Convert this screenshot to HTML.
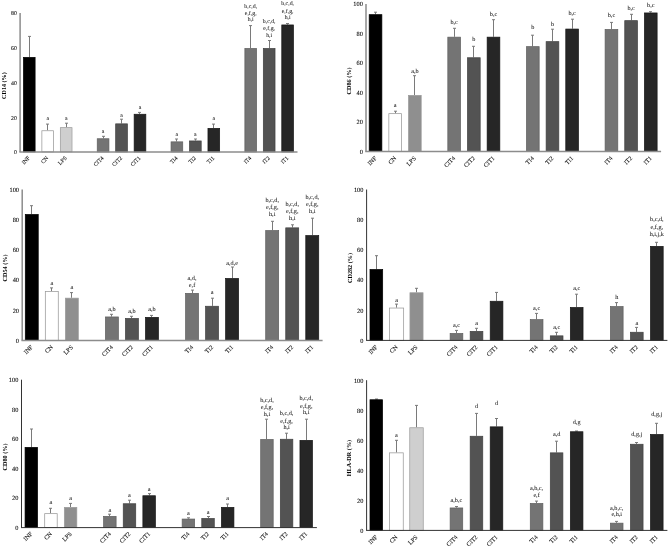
<!DOCTYPE html>
<html><head><meta charset="utf-8"><style>
html,body{margin:0;padding:0;background:#fff;}
body{width:669px;height:548px;overflow:hidden;}
svg{display:block;filter:grayscale(1) blur(0.35px);}
text{font-family:"Liberation Serif", serif;fill:#222;text-rendering:geometricPrecision;}
.t{font-size:6.3px;fill:#111;stroke:#111;stroke-width:0.1px;}
.l{font-size:6.2px;fill:#1a1a1a;stroke:#1a1a1a;stroke-width:0.06px;}
.x{font-size:6.1px;fill:#111;stroke:#111;stroke-width:0.1px;}
.ti{font-size:5.8px;font-weight:bold;fill:#000;}
.e{stroke:#7a7a7a;stroke-width:1;}
</style></head><body>
<svg width="669" height="548" viewBox="0 0 669 548">
<rect width="669" height="548" fill="#fff"/>
<text x="16.90" y="154.30" text-anchor="end" class="t" style="font-size:5.8px">0</text>
<text x="16.90" y="119.58" text-anchor="end" class="t" style="font-size:5.8px">20</text>
<text x="16.90" y="84.85" text-anchor="end" class="t" style="font-size:5.8px">40</text>
<text x="16.90" y="50.12" text-anchor="end" class="t" style="font-size:5.8px">60</text>
<text x="16.90" y="15.40" text-anchor="end" class="t" style="font-size:5.8px">80</text>
<line x1="29.50" y1="57.00" x2="29.50" y2="36.40" class="e"/>
<line x1="28.00" y1="36.40" x2="31.00" y2="36.40" class="e"/>
<rect x="23.41" y="57.35" width="11.70" height="94.55" fill="#000000" stroke="#000" stroke-width="0.7"/>
<text transform="translate(30.26,158.40) rotate(-45)" text-anchor="end" class="x" style="font-size:5.6px">INF</text>
<line x1="47.50" y1="130.40" x2="47.50" y2="124.10" class="e"/>
<line x1="46.00" y1="124.10" x2="49.00" y2="124.10" class="e"/>
<rect x="41.87" y="130.75" width="11.70" height="21.15" fill="#fff" stroke="#999" stroke-width="0.75"/>
<text x="47.72" y="120.30" text-anchor="middle" class="l" style="font-size:5.8px">a</text>
<text transform="translate(48.72,158.40) rotate(-45)" text-anchor="end" class="x" style="font-size:5.6px">CN</text>
<line x1="66.50" y1="127.30" x2="66.50" y2="123.20" class="e"/>
<line x1="65.00" y1="123.20" x2="68.00" y2="123.20" class="e"/>
<rect x="60.32" y="127.65" width="11.70" height="24.25" fill="#cfcfcf" stroke="#9a9a9a" stroke-width="0.7"/>
<text x="66.17" y="119.90" text-anchor="middle" class="l" style="font-size:5.8px">a</text>
<text transform="translate(67.17,158.40) rotate(-45)" text-anchor="end" class="x" style="font-size:5.6px">LPS</text>
<line x1="103.50" y1="138.40" x2="103.50" y2="136.30" class="e"/>
<line x1="102.00" y1="136.30" x2="105.00" y2="136.30" class="e"/>
<rect x="97.23" y="138.75" width="11.70" height="13.15" fill="#747474" stroke="#5e5e5e" stroke-width="0.7"/>
<text x="103.08" y="133.40" text-anchor="middle" class="l" style="font-size:5.8px">a</text>
<text transform="translate(104.08,158.40) rotate(-45)" text-anchor="end" class="x" style="font-size:5.6px">CIT4</text>
<line x1="121.50" y1="123.50" x2="121.50" y2="119.20" class="e"/>
<line x1="120.00" y1="119.20" x2="123.00" y2="119.20" class="e"/>
<rect x="115.68" y="123.85" width="11.70" height="28.05" fill="#535353" stroke="#404040" stroke-width="0.7"/>
<text x="121.53" y="116.70" text-anchor="middle" class="l" style="font-size:5.8px">a</text>
<text transform="translate(122.53,158.40) rotate(-45)" text-anchor="end" class="x" style="font-size:5.6px">CIT2</text>
<line x1="139.50" y1="113.90" x2="139.50" y2="112.40" class="e"/>
<line x1="138.00" y1="112.40" x2="141.00" y2="112.40" class="e"/>
<rect x="134.14" y="114.25" width="11.70" height="37.65" fill="#262626" stroke="#161616" stroke-width="0.7"/>
<text x="139.99" y="109.00" text-anchor="middle" class="l" style="font-size:5.8px">a</text>
<text transform="translate(140.99,158.40) rotate(-45)" text-anchor="end" class="x" style="font-size:5.6px">CIT1</text>
<line x1="176.50" y1="141.50" x2="176.50" y2="139.00" class="e"/>
<line x1="175.00" y1="139.00" x2="178.00" y2="139.00" class="e"/>
<rect x="171.05" y="141.85" width="11.70" height="10.05" fill="#747474" stroke="#5e5e5e" stroke-width="0.7"/>
<text x="176.90" y="136.40" text-anchor="middle" class="l" style="font-size:5.8px">a</text>
<text transform="translate(177.90,158.40) rotate(-45)" text-anchor="end" class="x" style="font-size:5.6px">TI4</text>
<line x1="195.50" y1="140.60" x2="195.50" y2="139.00" class="e"/>
<line x1="194.00" y1="139.00" x2="197.00" y2="139.00" class="e"/>
<rect x="189.50" y="140.95" width="11.70" height="10.95" fill="#535353" stroke="#404040" stroke-width="0.7"/>
<text x="195.35" y="136.10" text-anchor="middle" class="l" style="font-size:5.8px">a</text>
<text transform="translate(196.35,158.40) rotate(-45)" text-anchor="end" class="x" style="font-size:5.6px">TI2</text>
<line x1="213.50" y1="128.00" x2="213.50" y2="124.10" class="e"/>
<line x1="212.00" y1="124.10" x2="215.00" y2="124.10" class="e"/>
<rect x="207.96" y="128.35" width="11.70" height="23.55" fill="#262626" stroke="#161616" stroke-width="0.7"/>
<text x="213.81" y="120.30" text-anchor="middle" class="l" style="font-size:5.8px">a</text>
<text transform="translate(214.81,158.40) rotate(-45)" text-anchor="end" class="x" style="font-size:5.6px">TI1</text>
<line x1="250.50" y1="48.10" x2="250.50" y2="25.60" class="e"/>
<line x1="249.00" y1="25.60" x2="252.00" y2="25.60" class="e"/>
<rect x="244.87" y="48.45" width="11.70" height="103.45" fill="#747474" stroke="#5e5e5e" stroke-width="0.7"/>
<text x="250.72" y="7.90" text-anchor="middle" class="l" style="font-size:5.8px">b,c,d,</text>
<text x="250.72" y="15.40" text-anchor="middle" class="l" style="font-size:5.8px">e,f,g,</text>
<text x="250.72" y="21.00" text-anchor="middle" class="l" style="font-size:5.8px">h,i</text>
<text transform="translate(251.72,158.40) rotate(-45)" text-anchor="end" class="x" style="font-size:5.6px">IT4</text>
<line x1="269.50" y1="48.10" x2="269.50" y2="40.50" class="e"/>
<line x1="268.00" y1="40.50" x2="271.00" y2="40.50" class="e"/>
<rect x="263.32" y="48.45" width="11.70" height="103.45" fill="#535353" stroke="#404040" stroke-width="0.7"/>
<text x="269.17" y="23.10" text-anchor="middle" class="l" style="font-size:5.8px">b,c,d,</text>
<text x="269.17" y="30.30" text-anchor="middle" class="l" style="font-size:5.8px">e,f,g,</text>
<text x="269.17" y="36.80" text-anchor="middle" class="l" style="font-size:5.8px">h,i</text>
<text transform="translate(270.17,158.40) rotate(-45)" text-anchor="end" class="x" style="font-size:5.6px">IT2</text>
<line x1="287.50" y1="24.60" x2="287.50" y2="23.50" class="e"/>
<line x1="286.00" y1="23.50" x2="289.00" y2="23.50" class="e"/>
<rect x="281.78" y="24.95" width="11.70" height="126.95" fill="#262626" stroke="#161616" stroke-width="0.7"/>
<text x="287.63" y="5.20" text-anchor="middle" class="l" style="font-size:5.8px">b,c,d,</text>
<text x="287.63" y="12.70" text-anchor="middle" class="l" style="font-size:5.8px">e,f,g,</text>
<text x="287.63" y="19.20" text-anchor="middle" class="l" style="font-size:5.8px">h,i</text>
<text transform="translate(288.63,158.40) rotate(-45)" text-anchor="end" class="x" style="font-size:5.6px">IT1</text>
<line x1="20.10" y1="13.00" x2="20.10" y2="151.90" stroke="#8c8c8c" stroke-width="1.5"/>
<line x1="19.35" y1="151.90" x2="297.50" y2="151.90" stroke="#8c8c8c" stroke-width="1.5"/>
<text transform="translate(6.20,85.60) rotate(-90)" text-anchor="middle" class="ti" style="font-size:6.1px">CD14 (%)</text>
<text x="362.80" y="153.90" text-anchor="end" class="t" style="font-size:6.3px">0</text>
<text x="362.80" y="124.40" text-anchor="end" class="t" style="font-size:6.3px">20</text>
<text x="362.80" y="94.90" text-anchor="end" class="t" style="font-size:6.3px">40</text>
<text x="362.80" y="65.40" text-anchor="end" class="t" style="font-size:6.3px">60</text>
<text x="362.80" y="35.90" text-anchor="end" class="t" style="font-size:6.3px">80</text>
<text x="362.80" y="6.40" text-anchor="end" class="t" style="font-size:6.3px">100</text>
<line x1="375.50" y1="14.30" x2="375.50" y2="12.20" class="e"/>
<line x1="374.00" y1="12.20" x2="377.00" y2="12.20" class="e"/>
<rect x="369.18" y="14.65" width="12.70" height="136.85" fill="#000000" stroke="#000" stroke-width="0.7"/>
<text transform="translate(377.03,158.70) rotate(-45)" text-anchor="end" class="x" style="font-size:6.1px">INF</text>
<line x1="395.50" y1="113.30" x2="395.50" y2="111.20" class="e"/>
<line x1="394.00" y1="111.20" x2="397.00" y2="111.20" class="e"/>
<rect x="388.84" y="113.65" width="12.70" height="37.85" fill="#fff" stroke="#999" stroke-width="0.75"/>
<text x="395.19" y="107.40" text-anchor="middle" class="l" style="font-size:6.2px">a</text>
<text transform="translate(396.69,158.70) rotate(-45)" text-anchor="end" class="x" style="font-size:6.1px">CN</text>
<line x1="414.50" y1="95.00" x2="414.50" y2="75.70" class="e"/>
<line x1="413.00" y1="75.70" x2="416.00" y2="75.70" class="e"/>
<rect x="408.50" y="95.35" width="12.70" height="56.15" fill="#8f8f8f" stroke="#9a9a9a" stroke-width="0.7"/>
<text x="414.85" y="72.50" text-anchor="middle" class="l" style="font-size:6.2px">a,b</text>
<text transform="translate(416.35,158.70) rotate(-45)" text-anchor="end" class="x" style="font-size:6.1px">LPS</text>
<line x1="454.50" y1="36.80" x2="454.50" y2="28.30" class="e"/>
<line x1="453.00" y1="28.30" x2="456.00" y2="28.30" class="e"/>
<rect x="447.82" y="37.15" width="12.70" height="114.35" fill="#747474" stroke="#5e5e5e" stroke-width="0.7"/>
<text x="454.17" y="24.00" text-anchor="middle" class="l" style="font-size:6.2px">b,c</text>
<text transform="translate(455.67,158.70) rotate(-45)" text-anchor="end" class="x" style="font-size:6.1px">CIT4</text>
<line x1="473.50" y1="57.40" x2="473.50" y2="46.30" class="e"/>
<line x1="472.00" y1="46.30" x2="475.00" y2="46.30" class="e"/>
<rect x="467.48" y="57.75" width="12.70" height="93.75" fill="#535353" stroke="#404040" stroke-width="0.7"/>
<text x="473.83" y="41.10" text-anchor="middle" class="l" style="font-size:6.2px">b</text>
<text transform="translate(475.33,158.70) rotate(-45)" text-anchor="end" class="x" style="font-size:6.1px">CIT2</text>
<line x1="493.50" y1="36.80" x2="493.50" y2="19.70" class="e"/>
<line x1="492.00" y1="19.70" x2="495.00" y2="19.70" class="e"/>
<rect x="487.14" y="37.15" width="12.70" height="114.35" fill="#262626" stroke="#161616" stroke-width="0.7"/>
<text x="493.49" y="15.80" text-anchor="middle" class="l" style="font-size:6.2px">b,c</text>
<text transform="translate(494.99,158.70) rotate(-45)" text-anchor="end" class="x" style="font-size:6.1px">CIT1</text>
<line x1="532.50" y1="46.30" x2="532.50" y2="35.20" class="e"/>
<line x1="531.00" y1="35.20" x2="534.00" y2="35.20" class="e"/>
<rect x="526.46" y="46.65" width="12.70" height="104.85" fill="#747474" stroke="#5e5e5e" stroke-width="0.7"/>
<text x="532.81" y="29.40" text-anchor="middle" class="l" style="font-size:6.2px">b</text>
<text transform="translate(534.31,158.70) rotate(-45)" text-anchor="end" class="x" style="font-size:6.1px">TI4</text>
<line x1="552.50" y1="41.30" x2="552.50" y2="29.20" class="e"/>
<line x1="551.00" y1="29.20" x2="554.00" y2="29.20" class="e"/>
<rect x="546.12" y="41.65" width="12.70" height="109.85" fill="#535353" stroke="#404040" stroke-width="0.7"/>
<text x="552.47" y="25.50" text-anchor="middle" class="l" style="font-size:6.2px">b</text>
<text transform="translate(553.97,158.70) rotate(-45)" text-anchor="end" class="x" style="font-size:6.1px">TI2</text>
<line x1="572.50" y1="28.70" x2="572.50" y2="19.20" class="e"/>
<line x1="571.00" y1="19.20" x2="574.00" y2="19.20" class="e"/>
<rect x="565.78" y="29.05" width="12.70" height="122.45" fill="#262626" stroke="#161616" stroke-width="0.7"/>
<text x="572.13" y="14.50" text-anchor="middle" class="l" style="font-size:6.2px">b,c</text>
<text transform="translate(573.63,158.70) rotate(-45)" text-anchor="end" class="x" style="font-size:6.1px">TI1</text>
<line x1="611.50" y1="29.10" x2="611.50" y2="22.40" class="e"/>
<line x1="610.00" y1="22.40" x2="613.00" y2="22.40" class="e"/>
<rect x="605.10" y="29.45" width="12.70" height="122.05" fill="#747474" stroke="#5e5e5e" stroke-width="0.7"/>
<text x="611.45" y="17.40" text-anchor="middle" class="l" style="font-size:6.2px">b,c</text>
<text transform="translate(612.95,158.70) rotate(-45)" text-anchor="end" class="x" style="font-size:6.1px">IT4</text>
<line x1="631.50" y1="20.30" x2="631.50" y2="14.30" class="e"/>
<line x1="630.00" y1="14.30" x2="633.00" y2="14.30" class="e"/>
<rect x="624.76" y="20.65" width="12.70" height="130.85" fill="#535353" stroke="#404040" stroke-width="0.7"/>
<text x="631.11" y="10.20" text-anchor="middle" class="l" style="font-size:6.2px">b,c</text>
<text transform="translate(632.61,158.70) rotate(-45)" text-anchor="end" class="x" style="font-size:6.1px">IT2</text>
<line x1="650.50" y1="12.60" x2="650.50" y2="11.70" class="e"/>
<line x1="649.00" y1="11.70" x2="652.00" y2="11.70" class="e"/>
<rect x="644.42" y="12.95" width="12.70" height="138.55" fill="#262626" stroke="#161616" stroke-width="0.7"/>
<text x="650.77" y="6.60" text-anchor="middle" class="l" style="font-size:6.2px">b,c</text>
<text transform="translate(652.27,158.70) rotate(-45)" text-anchor="end" class="x" style="font-size:6.1px">IT1</text>
<line x1="366.00" y1="4.00" x2="366.00" y2="151.50" stroke="#8c8c8c" stroke-width="1.5"/>
<line x1="365.25" y1="151.50" x2="661.10" y2="151.50" stroke="#8c8c8c" stroke-width="1.5"/>
<text transform="translate(351.00,81.00) rotate(-90)" text-anchor="middle" class="ti" style="font-size:6.2px">CD86 (%)</text>
<text x="19.00" y="342.80" text-anchor="end" class="t" style="font-size:6.3px">0</text>
<text x="19.00" y="312.62" text-anchor="end" class="t" style="font-size:6.3px">20</text>
<text x="19.00" y="282.44" text-anchor="end" class="t" style="font-size:6.3px">40</text>
<text x="19.00" y="252.26" text-anchor="end" class="t" style="font-size:6.3px">60</text>
<text x="19.00" y="222.08" text-anchor="end" class="t" style="font-size:6.3px">80</text>
<text x="19.00" y="191.90" text-anchor="end" class="t" style="font-size:6.3px">100</text>
<line x1="31.50" y1="214.10" x2="31.50" y2="205.70" class="e"/>
<line x1="30.00" y1="205.70" x2="33.00" y2="205.70" class="e"/>
<rect x="25.29" y="214.45" width="12.95" height="125.95" fill="#000000" stroke="#000" stroke-width="0.7"/>
<text transform="translate(33.27,347.60) rotate(-45)" text-anchor="end" class="x" style="font-size:6.1px">INF</text>
<line x1="51.50" y1="291.20" x2="51.50" y2="287.90" class="e"/>
<line x1="50.00" y1="287.90" x2="53.00" y2="287.90" class="e"/>
<rect x="45.33" y="291.55" width="12.95" height="48.85" fill="#fff" stroke="#999" stroke-width="0.75"/>
<text x="51.80" y="284.70" text-anchor="middle" class="l" style="font-size:6.2px">a</text>
<text transform="translate(53.30,347.60) rotate(-45)" text-anchor="end" class="x" style="font-size:6.1px">CN</text>
<line x1="71.50" y1="297.80" x2="71.50" y2="292.60" class="e"/>
<line x1="70.00" y1="292.60" x2="73.00" y2="292.60" class="e"/>
<rect x="65.36" y="298.15" width="12.95" height="42.25" fill="#8f8f8f" stroke="#9a9a9a" stroke-width="0.7"/>
<text x="71.84" y="289.00" text-anchor="middle" class="l" style="font-size:6.2px">a</text>
<text transform="translate(73.34,347.60) rotate(-45)" text-anchor="end" class="x" style="font-size:6.1px">LPS</text>
<line x1="111.50" y1="316.60" x2="111.50" y2="314.30" class="e"/>
<line x1="110.00" y1="314.30" x2="113.00" y2="314.30" class="e"/>
<rect x="105.43" y="316.95" width="12.95" height="23.45" fill="#747474" stroke="#5e5e5e" stroke-width="0.7"/>
<text x="111.91" y="310.70" text-anchor="middle" class="l" style="font-size:6.2px">a,b</text>
<text transform="translate(113.41,347.60) rotate(-45)" text-anchor="end" class="x" style="font-size:6.1px">CIT4</text>
<line x1="131.50" y1="318.10" x2="131.50" y2="316.30" class="e"/>
<line x1="130.00" y1="316.30" x2="133.00" y2="316.30" class="e"/>
<rect x="125.46" y="318.45" width="12.95" height="21.95" fill="#535353" stroke="#404040" stroke-width="0.7"/>
<text x="131.94" y="312.50" text-anchor="middle" class="l" style="font-size:6.2px">a,b</text>
<text transform="translate(133.44,347.60) rotate(-45)" text-anchor="end" class="x" style="font-size:6.1px">CIT2</text>
<line x1="151.50" y1="317.00" x2="151.50" y2="315.40" class="e"/>
<line x1="150.00" y1="315.40" x2="153.00" y2="315.40" class="e"/>
<rect x="145.50" y="317.35" width="12.95" height="23.05" fill="#262626" stroke="#161616" stroke-width="0.7"/>
<text x="151.98" y="310.70" text-anchor="middle" class="l" style="font-size:6.2px">a,b</text>
<text transform="translate(153.48,347.60) rotate(-45)" text-anchor="end" class="x" style="font-size:6.1px">CIT1</text>
<line x1="192.50" y1="293.00" x2="192.50" y2="290.10" class="e"/>
<line x1="191.00" y1="290.10" x2="194.00" y2="290.10" class="e"/>
<rect x="185.57" y="293.35" width="12.95" height="47.05" fill="#747474" stroke="#5e5e5e" stroke-width="0.7"/>
<text x="192.05" y="279.70" text-anchor="middle" class="l" style="font-size:6.2px">a,d,</text>
<text x="192.05" y="286.50" text-anchor="middle" class="l" style="font-size:6.2px">e,f</text>
<text transform="translate(193.55,347.60) rotate(-45)" text-anchor="end" class="x" style="font-size:6.1px">TI4</text>
<line x1="212.50" y1="305.90" x2="212.50" y2="298.20" class="e"/>
<line x1="211.00" y1="298.20" x2="214.00" y2="298.20" class="e"/>
<rect x="205.60" y="306.25" width="12.95" height="34.15" fill="#535353" stroke="#404040" stroke-width="0.7"/>
<text x="212.08" y="294.00" text-anchor="middle" class="l" style="font-size:6.2px">a</text>
<text transform="translate(213.58,347.60) rotate(-45)" text-anchor="end" class="x" style="font-size:6.1px">TI2</text>
<line x1="232.50" y1="278.10" x2="232.50" y2="267.00" class="e"/>
<line x1="231.00" y1="267.00" x2="234.00" y2="267.00" class="e"/>
<rect x="225.64" y="278.45" width="12.95" height="61.95" fill="#262626" stroke="#161616" stroke-width="0.7"/>
<text x="232.12" y="264.50" text-anchor="middle" class="l" style="font-size:6.2px">a,d,e</text>
<text transform="translate(233.62,347.60) rotate(-45)" text-anchor="end" class="x" style="font-size:6.1px">TI1</text>
<line x1="272.50" y1="230.20" x2="272.50" y2="221.30" class="e"/>
<line x1="271.00" y1="221.30" x2="274.00" y2="221.30" class="e"/>
<rect x="265.71" y="230.55" width="12.95" height="109.85" fill="#747474" stroke="#5e5e5e" stroke-width="0.7"/>
<text x="272.19" y="202.20" text-anchor="middle" class="l" style="font-size:6.2px">b,c,d,</text>
<text x="272.19" y="209.40" text-anchor="middle" class="l" style="font-size:6.2px">e,f,g,</text>
<text x="272.19" y="216.00" text-anchor="middle" class="l" style="font-size:6.2px">h,i</text>
<text transform="translate(273.69,347.60) rotate(-45)" text-anchor="end" class="x" style="font-size:6.1px">IT4</text>
<line x1="292.50" y1="227.50" x2="292.50" y2="224.80" class="e"/>
<line x1="291.00" y1="224.80" x2="294.00" y2="224.80" class="e"/>
<rect x="285.75" y="227.85" width="12.95" height="112.55" fill="#535353" stroke="#404040" stroke-width="0.7"/>
<text x="292.22" y="205.50" text-anchor="middle" class="l" style="font-size:6.2px">b,c,d,</text>
<text x="292.22" y="213.30" text-anchor="middle" class="l" style="font-size:6.2px">e,f,g,</text>
<text x="292.22" y="219.80" text-anchor="middle" class="l" style="font-size:6.2px">h,i</text>
<text transform="translate(293.72,347.60) rotate(-45)" text-anchor="end" class="x" style="font-size:6.1px">IT2</text>
<line x1="312.50" y1="235.20" x2="312.50" y2="218.20" class="e"/>
<line x1="311.00" y1="218.20" x2="314.00" y2="218.20" class="e"/>
<rect x="305.78" y="235.55" width="12.95" height="104.85" fill="#262626" stroke="#161616" stroke-width="0.7"/>
<text x="312.25" y="198.60" text-anchor="middle" class="l" style="font-size:6.2px">b,c,d,</text>
<text x="312.25" y="205.80" text-anchor="middle" class="l" style="font-size:6.2px">e,f,g,</text>
<text x="312.25" y="213.00" text-anchor="middle" class="l" style="font-size:6.2px">h,i</text>
<text transform="translate(313.75,347.60) rotate(-45)" text-anchor="end" class="x" style="font-size:6.1px">IT1</text>
<line x1="22.20" y1="189.50" x2="22.20" y2="340.40" stroke="#8c8c8c" stroke-width="1.5"/>
<line x1="21.45" y1="340.40" x2="322.60" y2="340.40" stroke="#8c8c8c" stroke-width="1.5"/>
<text transform="translate(7.00,268.00) rotate(-90)" text-anchor="middle" class="ti" style="font-size:6.2px">CD54 (%)</text>
<text x="363.40" y="342.80" text-anchor="end" class="t" style="font-size:6.3px">0</text>
<text x="363.40" y="312.62" text-anchor="end" class="t" style="font-size:6.3px">20</text>
<text x="363.40" y="282.44" text-anchor="end" class="t" style="font-size:6.3px">40</text>
<text x="363.40" y="252.26" text-anchor="end" class="t" style="font-size:6.3px">60</text>
<text x="363.40" y="222.08" text-anchor="end" class="t" style="font-size:6.3px">80</text>
<text x="363.40" y="191.90" text-anchor="end" class="t" style="font-size:6.3px">100</text>
<line x1="376.50" y1="269.10" x2="376.50" y2="255.70" class="e"/>
<line x1="375.00" y1="255.70" x2="378.00" y2="255.70" class="e"/>
<rect x="369.99" y="269.45" width="12.70" height="70.95" fill="#000000" stroke="#000" stroke-width="0.7"/>
<text transform="translate(377.84,347.60) rotate(-45)" text-anchor="end" class="x" style="font-size:6.1px">INF</text>
<line x1="396.50" y1="307.70" x2="396.50" y2="304.10" class="e"/>
<line x1="395.00" y1="304.10" x2="398.00" y2="304.10" class="e"/>
<rect x="389.55" y="308.05" width="14.10" height="32.35" fill="#fff" stroke="#999" stroke-width="0.75"/>
<text x="396.60" y="301.60" text-anchor="middle" class="l" style="font-size:6.2px">a</text>
<text transform="translate(398.10,347.60) rotate(-45)" text-anchor="end" class="x" style="font-size:6.1px">CN</text>
<line x1="416.50" y1="292.40" x2="416.50" y2="288.30" class="e"/>
<line x1="415.00" y1="288.30" x2="418.00" y2="288.30" class="e"/>
<rect x="409.95" y="292.75" width="13.10" height="47.65" fill="#8f8f8f" stroke="#9a9a9a" stroke-width="0.7"/>
<text transform="translate(418.00,347.60) rotate(-45)" text-anchor="end" class="x" style="font-size:6.1px">LPS</text>
<line x1="456.50" y1="333.10" x2="456.50" y2="330.40" class="e"/>
<line x1="455.00" y1="330.40" x2="458.00" y2="330.40" class="e"/>
<rect x="450.13" y="333.45" width="12.70" height="6.95" fill="#747474" stroke="#5e5e5e" stroke-width="0.7"/>
<text x="456.48" y="327.20" text-anchor="middle" class="l" style="font-size:6.2px">a,c</text>
<text transform="translate(457.98,347.60) rotate(-45)" text-anchor="end" class="x" style="font-size:6.1px">CIT4</text>
<line x1="476.50" y1="331.00" x2="476.50" y2="328.30" class="e"/>
<line x1="475.00" y1="328.30" x2="478.00" y2="328.30" class="e"/>
<rect x="470.17" y="331.35" width="12.70" height="9.05" fill="#535353" stroke="#404040" stroke-width="0.7"/>
<text x="476.51" y="325.10" text-anchor="middle" class="l" style="font-size:6.2px">a</text>
<text transform="translate(478.01,347.60) rotate(-45)" text-anchor="end" class="x" style="font-size:6.1px">CIT2</text>
<line x1="496.50" y1="300.90" x2="496.50" y2="292.40" class="e"/>
<line x1="495.00" y1="292.40" x2="498.00" y2="292.40" class="e"/>
<rect x="490.20" y="301.25" width="12.70" height="39.15" fill="#262626" stroke="#161616" stroke-width="0.7"/>
<text transform="translate(498.05,347.60) rotate(-45)" text-anchor="end" class="x" style="font-size:6.1px">CIT1</text>
<line x1="536.50" y1="319.30" x2="536.50" y2="313.40" class="e"/>
<line x1="535.00" y1="313.40" x2="538.00" y2="313.40" class="e"/>
<rect x="530.27" y="319.65" width="12.70" height="20.75" fill="#747474" stroke="#5e5e5e" stroke-width="0.7"/>
<text x="536.62" y="310.20" text-anchor="middle" class="l" style="font-size:6.2px">a,c</text>
<text transform="translate(538.12,347.60) rotate(-45)" text-anchor="end" class="x" style="font-size:6.1px">TI4</text>
<line x1="556.50" y1="335.50" x2="556.50" y2="332.30" class="e"/>
<line x1="555.00" y1="332.30" x2="558.00" y2="332.30" class="e"/>
<rect x="550.30" y="335.85" width="12.70" height="4.55" fill="#535353" stroke="#404040" stroke-width="0.7"/>
<text x="556.65" y="328.60" text-anchor="middle" class="l" style="font-size:6.2px">a,c</text>
<text transform="translate(558.15,347.60) rotate(-45)" text-anchor="end" class="x" style="font-size:6.1px">TI2</text>
<line x1="576.50" y1="307.10" x2="576.50" y2="294.20" class="e"/>
<line x1="575.00" y1="294.20" x2="578.00" y2="294.20" class="e"/>
<rect x="570.34" y="307.45" width="12.70" height="32.95" fill="#262626" stroke="#161616" stroke-width="0.7"/>
<text x="576.69" y="290.10" text-anchor="middle" class="l" style="font-size:6.2px">a,c</text>
<text transform="translate(578.19,347.60) rotate(-45)" text-anchor="end" class="x" style="font-size:6.1px">TI1</text>
<line x1="616.50" y1="306.20" x2="616.50" y2="302.60" class="e"/>
<line x1="615.00" y1="302.60" x2="618.00" y2="302.60" class="e"/>
<rect x="610.41" y="306.55" width="12.70" height="33.85" fill="#747474" stroke="#5e5e5e" stroke-width="0.7"/>
<text x="616.76" y="298.50" text-anchor="middle" class="l" style="font-size:6.2px">h</text>
<text transform="translate(618.26,347.60) rotate(-45)" text-anchor="end" class="x" style="font-size:6.1px">IT4</text>
<line x1="636.50" y1="331.90" x2="636.50" y2="327.40" class="e"/>
<line x1="635.00" y1="327.40" x2="638.00" y2="327.40" class="e"/>
<rect x="630.45" y="332.25" width="12.70" height="8.15" fill="#535353" stroke="#404040" stroke-width="0.7"/>
<text x="636.80" y="324.50" text-anchor="middle" class="l" style="font-size:6.2px">a</text>
<text transform="translate(638.30,347.60) rotate(-45)" text-anchor="end" class="x" style="font-size:6.1px">IT2</text>
<line x1="656.50" y1="246.00" x2="656.50" y2="242.30" class="e"/>
<line x1="655.00" y1="242.30" x2="658.00" y2="242.30" class="e"/>
<rect x="650.48" y="246.35" width="12.70" height="94.05" fill="#262626" stroke="#161616" stroke-width="0.7"/>
<text x="656.83" y="221.30" text-anchor="middle" class="l" style="font-size:6.2px">b,c,d,</text>
<text x="656.83" y="228.60" text-anchor="middle" class="l" style="font-size:6.2px">e,f,g,</text>
<text x="656.83" y="235.90" text-anchor="middle" class="l" style="font-size:6.2px">h,i,j,k</text>
<text transform="translate(658.33,347.60) rotate(-45)" text-anchor="end" class="x" style="font-size:6.1px">IT1</text>
<line x1="366.60" y1="189.50" x2="366.60" y2="340.40" stroke="#333333" stroke-width="1.0"/>
<line x1="366.10" y1="340.40" x2="667.40" y2="340.40" stroke="#333333" stroke-width="1.0"/>
<text transform="translate(352.00,268.00) rotate(-90)" text-anchor="middle" class="ti" style="font-size:6.2px">CD282 (%)</text>
<text x="18.30" y="530.00" text-anchor="end" class="t" style="font-size:6.3px">0</text>
<text x="18.30" y="500.42" text-anchor="end" class="t" style="font-size:6.3px">20</text>
<text x="18.30" y="470.84" text-anchor="end" class="t" style="font-size:6.3px">40</text>
<text x="18.30" y="441.26" text-anchor="end" class="t" style="font-size:6.3px">60</text>
<text x="18.30" y="411.68" text-anchor="end" class="t" style="font-size:6.3px">80</text>
<text x="18.30" y="382.10" text-anchor="end" class="t" style="font-size:6.3px">100</text>
<line x1="31.50" y1="447.00" x2="31.50" y2="429.00" class="e"/>
<line x1="30.00" y1="429.00" x2="33.00" y2="429.00" class="e"/>
<rect x="25.06" y="447.35" width="12.50" height="80.25" fill="#000000" stroke="#000" stroke-width="0.7"/>
<text transform="translate(32.81,534.30) rotate(-45)" text-anchor="end" class="x" style="font-size:6.1px">INF</text>
<line x1="50.50" y1="513.30" x2="50.50" y2="508.30" class="e"/>
<line x1="49.00" y1="508.30" x2="52.00" y2="508.30" class="e"/>
<rect x="44.70" y="513.65" width="12.50" height="13.95" fill="#fff" stroke="#999" stroke-width="0.75"/>
<text x="50.95" y="503.60" text-anchor="middle" class="l" style="font-size:6.2px">a</text>
<text transform="translate(52.45,534.30) rotate(-45)" text-anchor="end" class="x" style="font-size:6.1px">CN</text>
<line x1="70.50" y1="507.00" x2="70.50" y2="503.40" class="e"/>
<line x1="69.00" y1="503.40" x2="72.00" y2="503.40" class="e"/>
<rect x="64.33" y="507.35" width="12.50" height="20.25" fill="#8f8f8f" stroke="#9a9a9a" stroke-width="0.7"/>
<text x="70.58" y="499.60" text-anchor="middle" class="l" style="font-size:6.2px">a</text>
<text transform="translate(72.08,534.30) rotate(-45)" text-anchor="end" class="x" style="font-size:6.1px">LPS</text>
<line x1="109.50" y1="516.00" x2="109.50" y2="514.20" class="e"/>
<line x1="108.00" y1="514.20" x2="111.00" y2="514.20" class="e"/>
<rect x="103.60" y="516.35" width="12.50" height="11.25" fill="#747474" stroke="#5e5e5e" stroke-width="0.7"/>
<text x="109.85" y="511.80" text-anchor="middle" class="l" style="font-size:6.2px">a</text>
<text transform="translate(111.35,534.30) rotate(-45)" text-anchor="end" class="x" style="font-size:6.1px">CIT4</text>
<line x1="129.50" y1="503.40" x2="129.50" y2="500.20" class="e"/>
<line x1="128.00" y1="500.20" x2="131.00" y2="500.20" class="e"/>
<rect x="123.24" y="503.75" width="12.50" height="23.85" fill="#535353" stroke="#404040" stroke-width="0.7"/>
<text x="129.49" y="497.00" text-anchor="middle" class="l" style="font-size:6.2px">a</text>
<text transform="translate(130.99,534.30) rotate(-45)" text-anchor="end" class="x" style="font-size:6.1px">CIT2</text>
<line x1="149.50" y1="495.40" x2="149.50" y2="493.60" class="e"/>
<line x1="148.00" y1="493.60" x2="151.00" y2="493.60" class="e"/>
<rect x="142.88" y="495.75" width="12.50" height="31.85" fill="#262626" stroke="#161616" stroke-width="0.7"/>
<text x="149.13" y="490.70" text-anchor="middle" class="l" style="font-size:6.2px">a</text>
<text transform="translate(150.63,534.30) rotate(-45)" text-anchor="end" class="x" style="font-size:6.1px">CIT1</text>
<line x1="188.50" y1="518.70" x2="188.50" y2="517.80" class="e"/>
<line x1="187.00" y1="517.80" x2="190.00" y2="517.80" class="e"/>
<rect x="182.15" y="519.05" width="12.50" height="8.55" fill="#747474" stroke="#5e5e5e" stroke-width="0.7"/>
<text x="188.40" y="514.90" text-anchor="middle" class="l" style="font-size:6.2px">a</text>
<text transform="translate(189.90,534.30) rotate(-45)" text-anchor="end" class="x" style="font-size:6.1px">TI4</text>
<line x1="208.50" y1="518.10" x2="208.50" y2="516.50" class="e"/>
<line x1="207.00" y1="516.50" x2="210.00" y2="516.50" class="e"/>
<rect x="201.78" y="518.45" width="12.50" height="9.15" fill="#535353" stroke="#404040" stroke-width="0.7"/>
<text x="208.03" y="514.00" text-anchor="middle" class="l" style="font-size:6.2px">a</text>
<text transform="translate(209.53,534.30) rotate(-45)" text-anchor="end" class="x" style="font-size:6.1px">TI2</text>
<line x1="227.50" y1="507.00" x2="227.50" y2="504.00" class="e"/>
<line x1="226.00" y1="504.00" x2="229.00" y2="504.00" class="e"/>
<rect x="221.42" y="507.35" width="12.50" height="20.25" fill="#262626" stroke="#161616" stroke-width="0.7"/>
<text x="227.67" y="499.60" text-anchor="middle" class="l" style="font-size:6.2px">a</text>
<text transform="translate(229.17,534.30) rotate(-45)" text-anchor="end" class="x" style="font-size:6.1px">TI1</text>
<line x1="266.50" y1="439.10" x2="266.50" y2="419.20" class="e"/>
<line x1="265.00" y1="419.20" x2="268.00" y2="419.20" class="e"/>
<rect x="260.69" y="439.45" width="12.50" height="88.15" fill="#747474" stroke="#5e5e5e" stroke-width="0.7"/>
<text x="266.94" y="401.90" text-anchor="middle" class="l" style="font-size:6.2px">b,c,d,</text>
<text x="266.94" y="409.30" text-anchor="middle" class="l" style="font-size:6.2px">e,f,g,</text>
<text x="266.94" y="415.90" text-anchor="middle" class="l" style="font-size:6.2px">h,i</text>
<text transform="translate(268.44,534.30) rotate(-45)" text-anchor="end" class="x" style="font-size:6.1px">IT4</text>
<line x1="286.50" y1="438.90" x2="286.50" y2="433.20" class="e"/>
<line x1="285.00" y1="433.20" x2="288.00" y2="433.20" class="e"/>
<rect x="280.33" y="439.25" width="12.50" height="88.35" fill="#535353" stroke="#404040" stroke-width="0.7"/>
<text x="286.58" y="415.40" text-anchor="middle" class="l" style="font-size:6.2px">b,c,d,</text>
<text x="286.58" y="422.70" text-anchor="middle" class="l" style="font-size:6.2px">e,f,g,</text>
<text x="286.58" y="429.40" text-anchor="middle" class="l" style="font-size:6.2px">h,i</text>
<text transform="translate(288.08,534.30) rotate(-45)" text-anchor="end" class="x" style="font-size:6.1px">IT2</text>
<line x1="306.50" y1="440.00" x2="306.50" y2="419.20" class="e"/>
<line x1="305.00" y1="419.20" x2="308.00" y2="419.20" class="e"/>
<rect x="299.96" y="440.35" width="12.50" height="87.25" fill="#262626" stroke="#161616" stroke-width="0.7"/>
<text x="306.21" y="400.10" text-anchor="middle" class="l" style="font-size:6.2px">b,c,d,</text>
<text x="306.21" y="407.50" text-anchor="middle" class="l" style="font-size:6.2px">e,f,g,</text>
<text x="306.21" y="414.10" text-anchor="middle" class="l" style="font-size:6.2px">h,i</text>
<text transform="translate(307.71,534.30) rotate(-45)" text-anchor="end" class="x" style="font-size:6.1px">IT1</text>
<line x1="21.50" y1="379.70" x2="21.50" y2="527.60" stroke="#333333" stroke-width="1.0"/>
<line x1="21.00" y1="527.60" x2="316.90" y2="527.60" stroke="#333333" stroke-width="1.0"/>
<text transform="translate(6.60,457.00) rotate(-90)" text-anchor="middle" class="ti" style="font-size:6.2px">CD80 (%)</text>
<text x="363.40" y="532.80" text-anchor="end" class="t" style="font-size:6.3px">0</text>
<text x="363.40" y="502.76" text-anchor="end" class="t" style="font-size:6.3px">20</text>
<text x="363.40" y="472.72" text-anchor="end" class="t" style="font-size:6.3px">40</text>
<text x="363.40" y="442.68" text-anchor="end" class="t" style="font-size:6.3px">60</text>
<text x="363.40" y="412.64" text-anchor="end" class="t" style="font-size:6.3px">80</text>
<text x="363.40" y="382.60" text-anchor="end" class="t" style="font-size:6.3px">100</text>
<line x1="376.50" y1="399.40" x2="376.50" y2="399.00" class="e"/>
<line x1="375.00" y1="399.00" x2="378.00" y2="399.00" class="e"/>
<rect x="369.99" y="399.75" width="12.60" height="130.65" fill="#000000" stroke="#000" stroke-width="0.7"/>
<text transform="translate(377.79,537.60) rotate(-45)" text-anchor="end" class="x" style="font-size:6.1px">INF</text>
<line x1="396.50" y1="452.50" x2="396.50" y2="440.30" class="e"/>
<line x1="395.00" y1="440.30" x2="398.00" y2="440.30" class="e"/>
<rect x="389.55" y="452.85" width="13.70" height="77.55" fill="#fff" stroke="#999" stroke-width="0.75"/>
<text x="396.40" y="437.10" text-anchor="middle" class="l" style="font-size:6.2px">a</text>
<text transform="translate(397.90,537.60) rotate(-45)" text-anchor="end" class="x" style="font-size:6.1px">CN</text>
<line x1="416.50" y1="427.40" x2="416.50" y2="405.40" class="e"/>
<line x1="415.00" y1="405.40" x2="418.00" y2="405.40" class="e"/>
<rect x="409.75" y="427.75" width="13.50" height="102.65" fill="#cfcfcf" stroke="#9a9a9a" stroke-width="0.7"/>
<text transform="translate(418.00,537.60) rotate(-45)" text-anchor="end" class="x" style="font-size:6.1px">LPS</text>
<line x1="456.50" y1="507.60" x2="456.50" y2="506.50" class="e"/>
<line x1="455.00" y1="506.50" x2="458.00" y2="506.50" class="e"/>
<rect x="450.13" y="507.95" width="12.60" height="22.45" fill="#747474" stroke="#5e5e5e" stroke-width="0.7"/>
<text x="456.43" y="502.30" text-anchor="middle" class="l" style="font-size:6.2px">a,b,c</text>
<text transform="translate(457.93,537.60) rotate(-45)" text-anchor="end" class="x" style="font-size:6.1px">CIT4</text>
<line x1="476.50" y1="435.90" x2="476.50" y2="413.40" class="e"/>
<line x1="475.00" y1="413.40" x2="478.00" y2="413.40" class="e"/>
<rect x="470.17" y="436.25" width="12.60" height="94.15" fill="#535353" stroke="#404040" stroke-width="0.7"/>
<text x="476.47" y="407.90" text-anchor="middle" class="l" style="font-size:6.2px">d</text>
<text transform="translate(477.97,537.60) rotate(-45)" text-anchor="end" class="x" style="font-size:6.1px">CIT2</text>
<line x1="496.50" y1="426.50" x2="496.50" y2="418.50" class="e"/>
<line x1="495.00" y1="418.50" x2="498.00" y2="418.50" class="e"/>
<rect x="490.20" y="426.85" width="12.60" height="103.55" fill="#262626" stroke="#161616" stroke-width="0.7"/>
<text x="496.50" y="405.20" text-anchor="middle" class="l" style="font-size:6.2px">d</text>
<text transform="translate(498.00,537.60) rotate(-45)" text-anchor="end" class="x" style="font-size:6.1px">CIT1</text>
<line x1="536.50" y1="503.10" x2="536.50" y2="501.10" class="e"/>
<line x1="535.00" y1="501.10" x2="538.00" y2="501.10" class="e"/>
<rect x="530.27" y="503.45" width="12.60" height="26.95" fill="#747474" stroke="#5e5e5e" stroke-width="0.7"/>
<text x="536.57" y="489.80" text-anchor="middle" class="l" style="font-size:6.2px">a,b,c,</text>
<text x="536.57" y="497.00" text-anchor="middle" class="l" style="font-size:6.2px">e,f</text>
<text transform="translate(538.07,537.60) rotate(-45)" text-anchor="end" class="x" style="font-size:6.1px">TI4</text>
<line x1="556.50" y1="452.50" x2="556.50" y2="441.20" class="e"/>
<line x1="555.00" y1="441.20" x2="558.00" y2="441.20" class="e"/>
<rect x="550.30" y="452.85" width="12.60" height="77.55" fill="#535353" stroke="#404040" stroke-width="0.7"/>
<text x="556.60" y="436.20" text-anchor="middle" class="l" style="font-size:6.2px">a,d</text>
<text transform="translate(558.10,537.60) rotate(-45)" text-anchor="end" class="x" style="font-size:6.1px">TI2</text>
<line x1="576.50" y1="431.40" x2="576.50" y2="431.00" class="e"/>
<line x1="575.00" y1="431.00" x2="578.00" y2="431.00" class="e"/>
<rect x="570.34" y="431.75" width="12.60" height="98.65" fill="#262626" stroke="#161616" stroke-width="0.7"/>
<text x="576.64" y="423.60" text-anchor="middle" class="l" style="font-size:6.2px">d,g</text>
<text transform="translate(578.14,537.60) rotate(-45)" text-anchor="end" class="x" style="font-size:6.1px">TI1</text>
<line x1="616.50" y1="522.80" x2="616.50" y2="521.40" class="e"/>
<line x1="615.00" y1="521.40" x2="618.00" y2="521.40" class="e"/>
<rect x="610.41" y="523.15" width="12.60" height="7.25" fill="#747474" stroke="#5e5e5e" stroke-width="0.7"/>
<text x="616.71" y="509.50" text-anchor="middle" class="l" style="font-size:6.2px">a,b,c,</text>
<text x="616.71" y="516.30" text-anchor="middle" class="l" style="font-size:6.2px">e,h,i</text>
<text transform="translate(618.21,537.60) rotate(-45)" text-anchor="end" class="x" style="font-size:6.1px">IT4</text>
<line x1="636.50" y1="443.90" x2="636.50" y2="442.50" class="e"/>
<line x1="635.00" y1="442.50" x2="638.00" y2="442.50" class="e"/>
<rect x="630.45" y="444.25" width="12.60" height="86.15" fill="#535353" stroke="#404040" stroke-width="0.7"/>
<text x="636.75" y="436.20" text-anchor="middle" class="l" style="font-size:6.2px">d,g,j</text>
<text transform="translate(638.25,537.60) rotate(-45)" text-anchor="end" class="x" style="font-size:6.1px">IT2</text>
<line x1="656.50" y1="434.10" x2="656.50" y2="423.30" class="e"/>
<line x1="655.00" y1="423.30" x2="658.00" y2="423.30" class="e"/>
<rect x="650.48" y="434.45" width="12.60" height="95.95" fill="#262626" stroke="#161616" stroke-width="0.7"/>
<text x="656.78" y="415.90" text-anchor="middle" class="l" style="font-size:6.2px">d,g,j</text>
<text transform="translate(658.28,537.60) rotate(-45)" text-anchor="end" class="x" style="font-size:6.1px">IT1</text>
<line x1="366.60" y1="380.20" x2="366.60" y2="530.40" stroke="#333333" stroke-width="1.0"/>
<line x1="366.10" y1="530.40" x2="667.40" y2="530.40" stroke="#333333" stroke-width="1.0"/>
<text transform="translate(350.80,458.00) rotate(-90)" text-anchor="middle" class="ti" style="font-size:6.2px">HLA-DR (%)</text>
</svg>
</body></html>
